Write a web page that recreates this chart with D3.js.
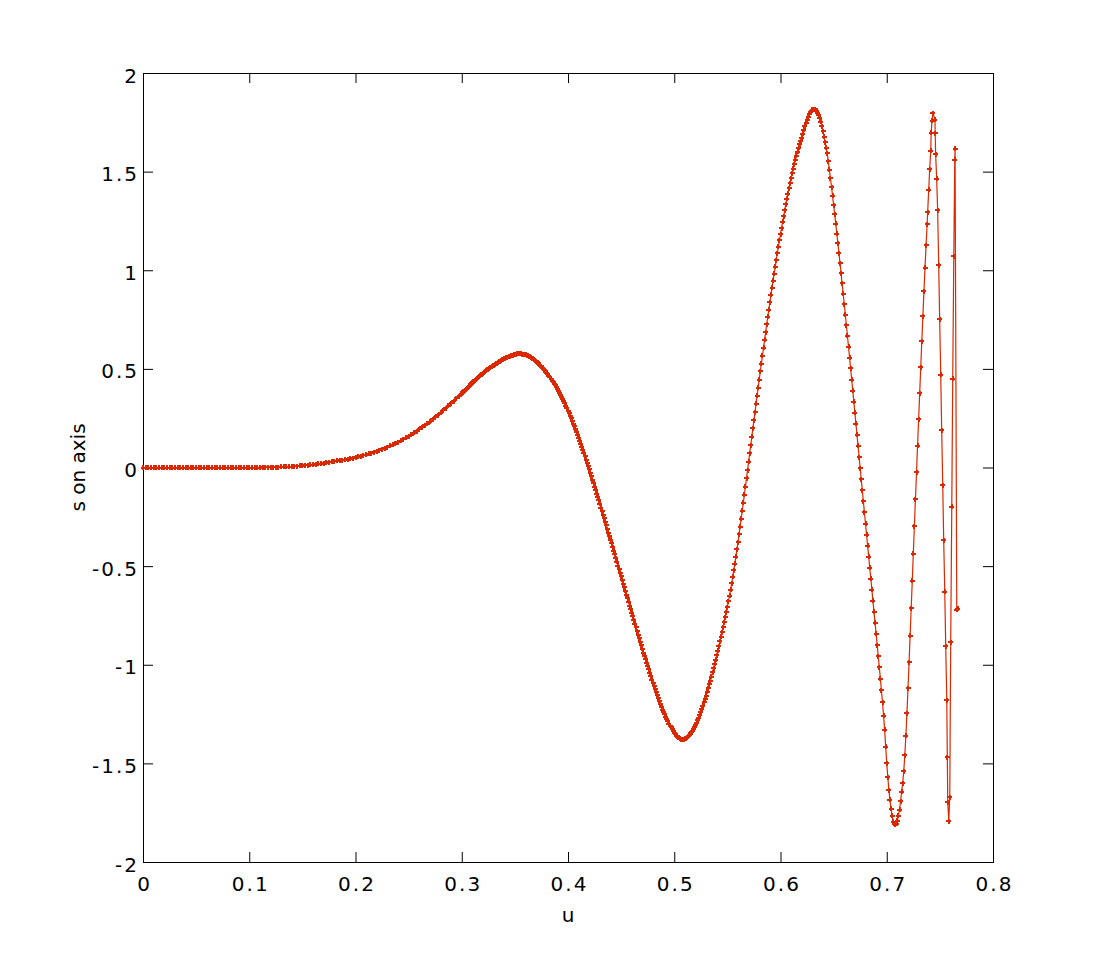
<!DOCTYPE html>
<html>
<head>
  <meta charset="utf-8">
  <script src="https://d3js.org/d3.v7.min.js"></script>
  <style>
    body { margin: 0; background: #fff; }
    text { font-family: "DejaVu Sans", sans-serif; }
  </style>
</head>
<body>
  <svg id="chart" width="1097" height="968"></svg>
  <script>
    // tick values
    const xTicks = [0, 0.1, 0.2, 0.3, 0.4, 0.5, 0.6, 0.7, 0.8];
    const yTicks = [-2, -1.5, -1, -0.5, 0, 0.5, 1, 1.5, 2];

    // u (horizontal) values
    const uValues = [
      0, .0025, .005, .0075, .01, .0125, .015, .0175,
      .02, .0225, .025, .0275, .03, .0325, .035, .0375,
      .04, .0425, .045, .0475, .05, .0525, .055, .0575,
      .06, .0625, .065, .0675, .07, .0725, .075, .0775,
      .08, .0825, .085, .0875, .09, .0925, .095, .0975,
      .1, .1025, .105, .1075, .11, .1125, .115, .1175,
      .12, .1225, .125, .1275, .13, .1325, .135, .1375,
      .14, .1425, .145, .1475, .15, .1525, .155, .1575,
      .16, .1625, .165, .1675, .17, .1725, .175, .1775,
      .18, .1825, .185, .1875, .19, .1925, .195, .1975,
      .2, .2025, .205, .2075, .21, .2125, .215, .2175,
      .22, .2225, .225, .2275, .23, .2325, .235, .2375,
      .24, .2425, .245, .2475, .25, .2525, .255, .2575,
      .26, .2625, .265, .2675, .27, .2725, .275, .2775,
      .28, .2825, .285, .2875, .29, .2925, .295, .2975,
      .300, .301, .302, .303, .304, .305, .306, .307, .308, .309,
      .310, .311, .312, .313, .314, .315, .316, .317, .318, .319,
      .320, .321, .322, .323, .324, .325, .326, .327, .328, .329,
      .330, .331, .332, .333, .334, .335, .336, .337, .338, .339,
      .340, .341, .342, .343, .344, .345, .346, .347, .348, .349,
      .350, .351, .352, .353, .354, .355, .356, .357, .358, .359,
      .360, .361, .362, .363, .364, .365, .366, .367, .368, .369,
      .370, .371, .372, .373, .374, .375, .376, .377, .378, .379,
      .380, .381, .382, .383, .384, .385, .386, .387, .388, .389,
      .390, .391, .392, .393, .394, .395, .396, .397, .398, .399,
      .400, .401, .402, .403, .404, .405, .406, .407, .408, .409,
      .410, .411, .412, .413, .414, .415, .416, .417, .418, .419,
      .420, .421, .422, .423, .424, .425, .426, .427, .428, .429,
      .430, .431, .432, .433, .434, .435, .436, .437, .438, .439,
      .440, .441, .442, .443, .444, .445, .446, .447, .448, .449,
      .450, .451, .452, .453, .454, .455, .456, .457, .458, .459,
      .460, .461, .462, .463, .464, .465, .466, .467, .468, .469,
      .470, .471, .472, .473, .474, .475, .476, .477, .478, .479,
      .480, .481, .482, .483, .484, .485, .486, .487, .488, .489,
      .490, .491, .492, .493, .494, .495, .496, .497, .498, .499,
      .500, .501, .502, .503, .504, .505, .506, .507, .508, .509,
      .510, .511, .512, .513, .514, .515, .516, .517, .518, .519,
      .520, .521, .522, .523, .524, .525, .526, .527, .528, .529,
      .530, .531, .532, .533, .534, .535, .536, .537, .538, .539,
      .540, .541, .542, .543, .544, .545, .546, .547, .548, .549,
      .550, .551, .552, .553, .554, .555, .556, .557, .558, .559,
      .560, .561, .562, .563, .564, .565, .566, .567, .568, .569,
      .570, .571, .572, .573, .574, .575, .576, .577, .578, .579,
      .580, .581, .582, .583, .584, .585, .586, .587, .588, .589,
      .590, .591, .592, .593, .594, .595, .596, .597, .598, .599,
      .600, .601, .602, .603, .604, .605, .606, .607, .608, .609,
      .610, .611, .612, .613, .614, .615, .616, .617, .618, .619,
      .620, .621, .622, .623, .624, .625, .626, .627, .628, .629,
      .630, .631, .632, .633, .634, .635, .636, .637, .638, .639,
      .640, .641, .642, .643, .644, .645, .646, .647, .648, .649,
      .650, .651, .652, .653, .654, .655, .656, .657, .658, .659,
      .660, .661, .662, .663, .664, .665, .666, .667, .668, .669,
      .670, .671, .672, .673, .674, .675, .676, .677, .678, .679,
      .680, .681, .682, .683, .684, .685, .686, .687, .688, .689,
      .690, .691, .692, .693, .694, .695, .696, .697, .698, .699,
      .700, .701, .702, .703, .704, .705, .706, .707, .708, .709,
      .710, .711, .712, .713, .714, .715, .716, .717, .718, .719,
      .720, .721, .722, .723, .724, .725, .726, .727, .728, .729,
      .730, .731, .732, .733, .734, .735, .736, .737, .738,
      .7385, .7395, .7404, .7414, .7418, .7426, .7435, .7454, .7456, .746,
      .747, .7479, .7489, .7498, .7508, .7517, .7527, .7536, .7546, .7555,
      .7565, .757, .7574, .7584, .7593, .7602, .7612, .7621, .7631, .764,
      .7643, .7659, .7668
    ];

    // s on axis, one per u value
    const sValues = [
      0, 0, 0, 0, 0, 0, 0, 0,
      0, 0, 0, 0, 0, 0, 0, 0,
      0, 0, 0, 0, 0, 0, 0, 0,
      0, 0, 0, 0, 0, 0, 0, 0,
      0, 0, 0, 0, 0, 0, 0, 0,
      0, 0, 0, 0, 0, .0005, .0006, .0008,
      .001, .0015, .002, .0025, .003, .0035, .004, .0045,
      .005, .006, .007, .008, .009, .0105, .012, .0135,
      .015, .017, .0185, .02, .022, .024, .0265, .029,
      .031, .033, .0355, .038, .04, .043, .0455, .048,
      .051, .0545, .058, .0615, .065, .069, .073, .0775,
      .082, .087, .092, .0975, .103, .109, .115, .1215,
      .128, .135, .1425, .15, .158, .1665, .175, .184,
      .193, .203, .213, .223, .233, .244, .255, .266,
      .277, .289, .301, .313, .325, .337, .35, .362,
      .375, .381, .386, .392, .397, .403, .408, .414, .419, .425,
      .430, .435, .440, .445, .450, .455, .460, .464, .469, .473,
      .478, .482, .487, .491, .495, .499, .503, .507, .511, .515,
      .519, .522, .526, .529, .533, .536, .539, .542, .545, .548,
      .551, .554, .557, .559, .562, .564, .566, .568, .570, .572,
      .574, .575, .576, .577, .577, .577, .576, .575, .574, .572,
      .571, .569, .567, .564, .561, .558, .554, .551, .547, .542,
      .538, .533, .528, .522, .517, .511, .505, .499, .493, .486,
      .480, .472, .465, .457, .449, .441, .433, .424, .416, .407,
      .398, .389, .379, .369, .359, .349, .337, .325, .313, .301,
      .288, .275, .262, .249, .236, .223, .209, .194, .180, .165,
      .150, .135, .120, .104, .088, .072, .056, .039, .023, .007,
      -.010, -.027, -.044, -.062, -.079, -.097, -.115, -.132, -.150, -.167,
      -.185, -.203, -.221, -.239, -.257, -.275, -.293, -.312, -.330, -.349,
      -.367, -.385, -.404, -.422, -.441, -.459, -.478, -.497, -.515, -.534,
      -.552, -.570, -.589, -.607, -.626, -.644, -.663, -.681, -.700, -.718,
      -.737, -.755, -.774, -.792, -.811, -.829, -.847, -.866, -.884, -.902,
      -.920, -.938, -.955, -.973, -.990, -1.007, -1.024, -1.041, -1.058, -1.075,
      -1.092, -1.108, -1.124, -1.140, -1.155, -1.170, -1.185, -1.199, -1.213, -1.227,
      -1.240, -1.252, -1.264, -1.276, -1.287, -1.298, -1.308, -1.318, -1.327, -1.336,
      -1.345, -1.352, -1.359, -1.365, -1.370, -1.374, -1.377, -1.379, -1.379, -1.378,
      -1.375, -1.372, -1.367, -1.362, -1.356, -1.350, -1.342, -1.334, -1.325, -1.315,
      -1.305, -1.293, -1.281, -1.268, -1.254, -1.240, -1.224, -1.208, -1.191, -1.174,
      -1.157, -1.138, -1.120, -1.100, -1.080, -1.060, -1.039, -1.018, -.996, -.974,
      -.952, -.929, -.906, -.882, -.858, -.834, -.809, -.785, -.759, -.734,
      -.708, -.679, -.650, -.619, -.588, -.555, -.522, -.487, -.452, -.415,
      -.378, -.339, -.300, -.260, -.220, -.179, -.138, -.097, -.055, -.013,
      .030, .072, .114, .156, .198, .240, .281, .323, .364, .405,
      .446, .487, .527, .567, .607, .647, .686, .725, .763, .801,
      .838, .875, .911, .947, .982, 1.017, 1.051, 1.085, 1.118, 1.151,
      1.183, 1.214, 1.245, 1.275, 1.305, 1.334, 1.362, 1.389, 1.416, 1.442,
      1.467, 1.491, 1.515, 1.538, 1.560, 1.581, 1.601, 1.620, 1.639, 1.656,
      1.673, 1.693, 1.712, 1.730, 1.748, 1.764, 1.778, 1.790, 1.800, 1.807,
      1.813, 1.815, 1.815, 1.812, 1.808, 1.799, 1.787, 1.771, 1.752, 1.730,
      1.705, 1.677, 1.648, 1.620, 1.592, 1.552, 1.510, 1.467, 1.422, 1.377,
      1.330, 1.283, 1.235, 1.186, 1.137, 1.087, 1.036, .985, .933, .881,
      .828, .775, .721, .667, .612, .557, .502, .446, .390, .334,
      .278, .222, .165, .109, .052, -.004, -.060, -.116, -.172, -.228,
      -.284, -.340, -.396, -.452, -.508, -.564, -.620, -.676, -.732, -.788,
      -.844, -.900, -.957, -1.013, -1.070, -1.130, -1.190, -1.258, -1.330, -1.415,
      -1.500, -1.570, -1.635, -1.685, -1.730, -1.765, -1.795, -1.807, -1.812, -1.806,
      -1.790, -1.765, -1.735, -1.693, -1.645, -1.600, -1.540, -1.460, -1.360, -1.245,
      -1.120, -.988, -.852, -.714, -.575, -.436, -.298, -.161, -.025, .110,
      .244, .377, .509, .640, .768, .893, 1.013, 1.127, 1.233,
      1.295, 1.407, 1.513, 1.605, 1.696, 1.758, 1.797, 1.762, 1.695, 1.589,
      1.463, 1.305, 1.025, .752, .469, .19, -.089, -.368, -.63, -.905,
      -1.18, -1.468, -1.696, -1.793, -1.671, -.885, -.2, .45, 1.07, 1.559,
      1.615, -.722, -.717
    ];

    if (uValues.length !== sValues.length) {
      console.error("length mismatch", uValues.length, sValues.length);
    }

    const lineColor = "#dc2800";
    const fontSize = 20;
    const spacing = 2;

    const svg = d3.select("#chart");
    const width = +svg.attr("width");
    const height = +svg.attr("height");
    const margins = { top: 73, right: 104, bottom: 106, left: 143 };

    const xScale = d3.scaleLinear()
      .domain([0, 0.8])
      .range([margins.left, width - margins.right]);
    const yScale = d3.scaleLinear()
      .domain([-2, 2])
      .range([height - margins.bottom, margins.top]);

    const points = uValues.map((u, i) => ({ u: u, s: sValues[i] }));

    // axes, ticks pointing inwards like matlab
    const tickLen = 10;
    const fmt = d => String(d);

    let bottomAxis = d3.axisBottom(xScale)
      .tickValues(xTicks)
      .tickFormat(fmt)
      .tickSizeInner(-tickLen)
      .tickSizeOuter(0)
      .tickPadding(15);
    let topAxis = d3.axisTop(xScale)
      .tickValues(xTicks)
      .tickFormat("")
      .tickSizeInner(-tickLen)
      .tickSizeOuter(0);
    let leftAxis = d3.axisLeft(yScale)
      .tickValues(yTicks)
      .tickFormat(fmt)
      .tickSizeInner(-tickLen)
      .tickSizeOuter(0)
      .tickPadding(6 - spacing);
    let rightAxis = d3.axisRight(yScale)
      .tickValues(yTicks)
      .tickFormat("")
      .tickSizeInner(-tickLen)
      .tickSizeOuter(0);

    let gBottom = svg.append("g")
      .attr("transform", `translate(0,${height - margins.bottom})`)
      .call(bottomAxis);
    let gTop = svg.append("g")
      .attr("transform", `translate(0,${margins.top})`)
      .call(topAxis);
    let gLeft = svg.append("g")
      .attr("transform", `translate(${margins.left},0)`)
      .call(leftAxis);
    let gRight = svg.append("g")
      .attr("transform", `translate(${width - margins.right},0)`)
      .call(rightAxis);

    [gBottom, gTop, gLeft, gRight].forEach(g => {
      g.select(".domain").remove();
      g.selectAll(".tick line").attr("stroke", "#000");
      g.selectAll("text")
        .attr("fill", "#000")
        .style("font-size", fontSize + "px")
        .style("letter-spacing", spacing + "px")
        .style("font-family", "'DejaVu Sans', sans-serif");
    });
    gLeft.selectAll("text").attr("dy", "0.45em");
    gBottom.selectAll("text").attr("dx", spacing / 2);

    // box
    svg.append("rect")
      .attr("x", margins.left + 0.5)
      .attr("y", margins.top + 0.5)
      .attr("width", width - margins.left - margins.right)
      .attr("height", height - margins.top - margins.bottom)
      .attr("fill", "none")
      .attr("stroke", "#000")
      .attr("stroke-width", 1);

    // axis labels
    svg.append("text")
      .attr("x", xScale(0.4))
      .attr("y", 922)
      .attr("text-anchor", "middle")
      .style("font-size", fontSize + "px")
      .text("u");
    svg.append("text")
      .attr("transform", `translate(85,${yScale(0)}) rotate(-90)`)
      .attr("text-anchor", "middle")
      .style("font-size", fontSize + "px")
      .text("s on axis");

    // curve
    const line = d3.line()
      .x(d => xScale(d.u))
      .y(d => yScale(d.s));

    let plotArea = svg.append("g");
    plotArea.append("path")
      .attr("d", line(points))
      .attr("fill", "none")
      .attr("stroke", lineColor)
      .attr("stroke-width", 1.2);

    // plus markers
    plotArea.selectAll("path.marker")
      .data(points)
      .join("path")
      .attr("class", "marker")
      .attr("transform", d => `translate(${xScale(d.u)},${yScale(d.s)})`)
      .attr("d", "M-2.5,0H2.5M0,-2.5V2.5")
      .attr("stroke", lineColor)
      .attr("stroke-width", 2)
      .attr("shape-rendering", "crispEdges")
      .attr("fill", "none");
  </script>
</body>
</html>
